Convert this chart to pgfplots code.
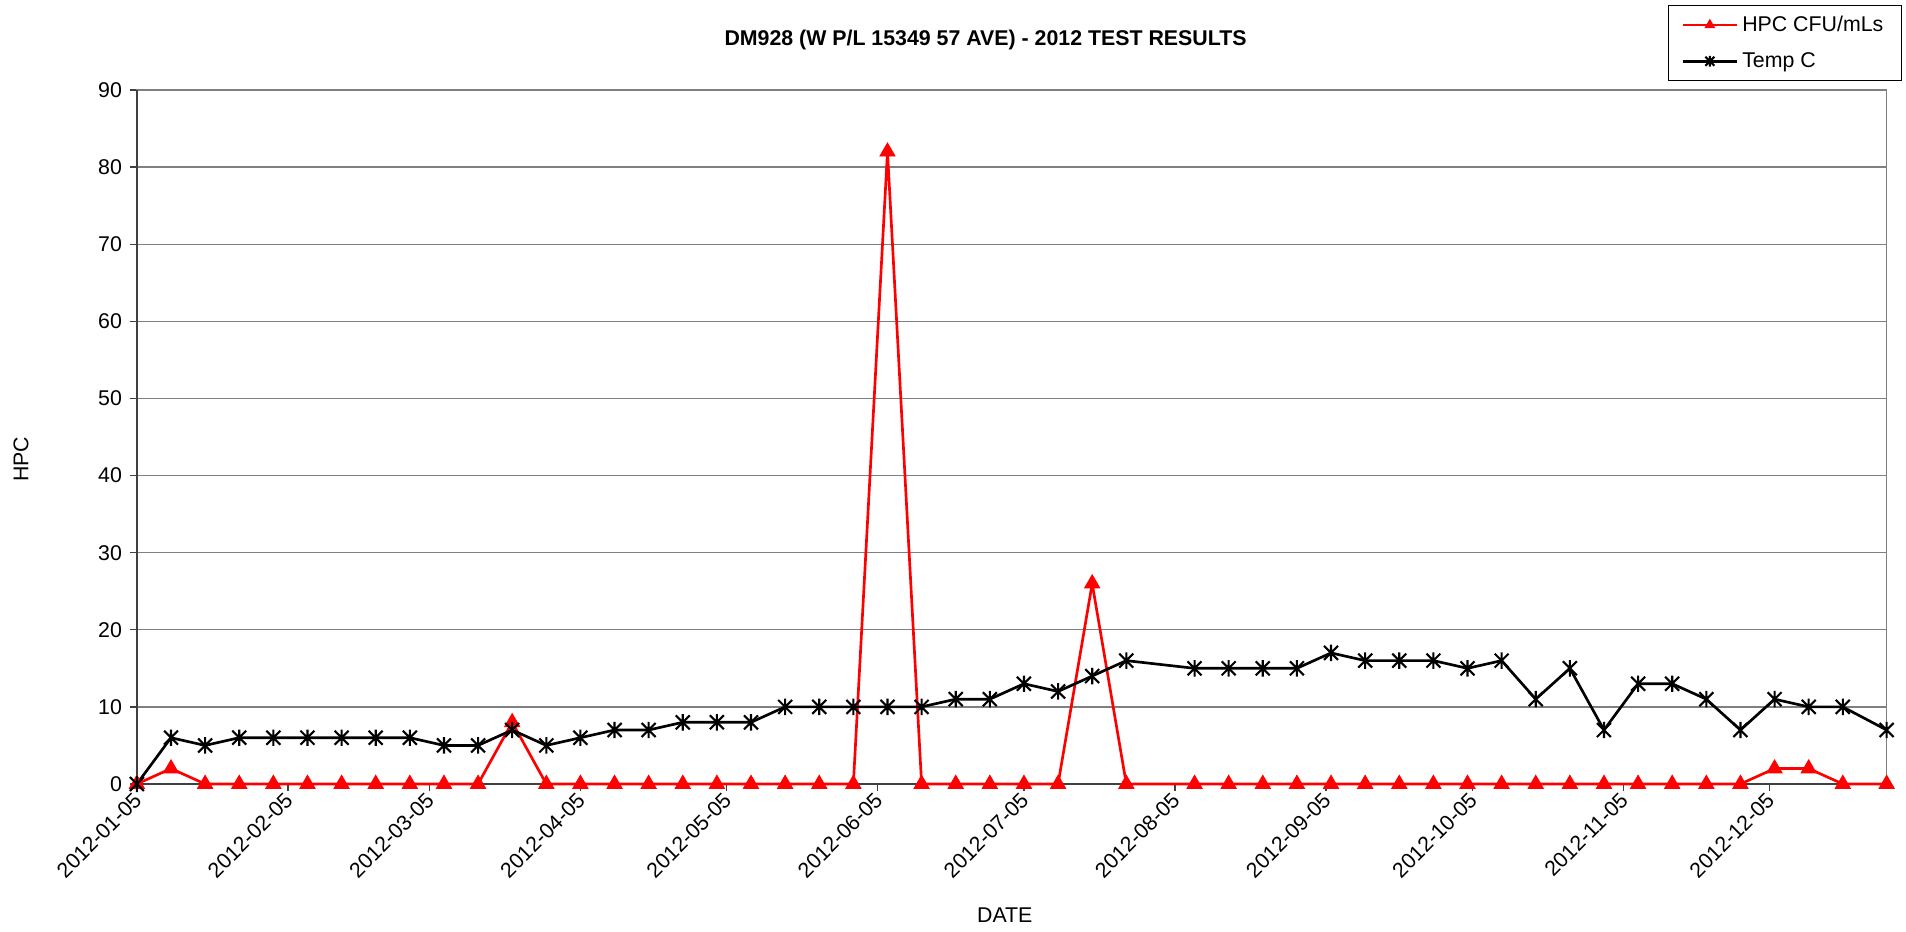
\documentclass[border=0pt]{standalone}
\usepackage{fontspec}
\setmainfont{Liberation Sans}
\usepackage{pgfplots}
\pgfplotsset{compat=1.18}

\definecolor{gridgray}{RGB}{128,128,128}
\definecolor{axisdark}{RGB}{64,64,64}

% Excel-style star: an x with a vertical bar
\pgfdeclareplotmark{xstar}{%
  \pgfpathmoveto{\pgfqpoint{-0.85\pgfplotmarksize}{-0.85\pgfplotmarksize}}%
  \pgfpathlineto{\pgfqpoint{0.85\pgfplotmarksize}{0.85\pgfplotmarksize}}%
  \pgfpathmoveto{\pgfqpoint{-0.85\pgfplotmarksize}{0.85\pgfplotmarksize}}%
  \pgfpathlineto{\pgfqpoint{0.85\pgfplotmarksize}{-0.85\pgfplotmarksize}}%
  \pgfpathmoveto{\pgfqpoint{0pt}{-\pgfplotmarksize}}%
  \pgfpathlineto{\pgfqpoint{0pt}{\pgfplotmarksize}}%
  \pgfusepathqstroke}

\begin{document}
\begin{tikzpicture}
\path[use as bounding box] (-61.6pt,-66.6pt) rectangle (796.1pt,352.8pt);
\begin{axis}[
  scale only axis,
  width=787.4pt, height=312.3pt,
  at={(0pt,0pt)}, anchor=south west,
  xmin=0, xmax=359, ymin=0, ymax=90,
  clip=false,
  font=\fontsize{9.6}{11}\selectfont,
  /pgf/number format/assume math mode=true,
  xtick={0,31,60,91,121,152,182,213,244,274,305,335},
  xticklabels={2012-01-05,2012-02-05,2012-03-05,2012-04-05,2012-05-05,2012-06-05,
    2012-07-05,2012-08-05,2012-09-05,2012-10-05,2012-11-05,2012-12-05},
  ytick={0,10,...,90},
  x tick label style={rotate=45, anchor=east, yshift=-2pt, xshift=2pt},
  tick align=outside,
  major tick length=3.2pt,
  tick style={axisdark, line width=0.6pt},
  xtick pos=bottom, ytick pos=left,
  ymajorgrids,
  grid style={gridgray, line width=0.6pt},
  axis line style={gridgray, line width=0.6pt},
  title={DM928 (W P/L 15349 57 AVE) - 2012 TEST RESULTS},
  title style={at={(axis description cs:0.485,1.053)}, anchor=center,
    font=\bfseries\fontsize{9.6}{11}\selectfont},
  xlabel={DATE},
  xlabel style={at={(axis description cs:0.496,-0.189)}, anchor=center},
  ylabel={HPC},
  ylabel style={at={(axis description cs:-0.0662,0.468)}, anchor=center, rotate=0},
  legend cell align=left,
  legend style={at={(axis description cs:0.875,1.1225)}, anchor=north west,
    draw=black, line width=0.5pt, inner xsep=6pt, inner ysep=2.5pt,
    row sep=4pt, font=\fontsize{9.6}{11}\selectfont},
  legend image code/.code={%
    \draw[mark repeat=2, mark phase=2, #1, mark size=2.4pt]
      plot coordinates {(0pt,0pt) (12pt,0pt) (24pt,0pt)};},
]
\draw[axisdark, line width=0.9pt] (rel axis cs:0,1) -- (rel axis cs:0,0) -- (rel axis cs:1,0);

\addplot[red, line width=1.2pt, mark=triangle*, mark size=3.9pt,
  mark options={solid, fill=red, line width=0.4pt}] coordinates {
  (0,0) (7,2) (14,0) (21,0) (28,0) (35,0) (42,0) (49,0) (56,0) (63,0)
  (70,0) (77,8) (84,0) (91,0) (98,0) (105,0) (112,0) (119,0) (126,0) (133,0)
  (140,0) (147,0) (154,82) (161,0) (168,0) (175,0) (182,0) (189,0) (196,26) (203,0)
  (217,0) (224,0) (231,0) (238,0) (245,0) (252,0) (259,0) (266,0) (273,0) (280,0)
  (287,0) (294,0) (301,0) (308,0) (315,0) (322,0) (329,0) (336,2) (343,2) (350,0)
  (359,0)
};
\addlegendentry{HPC CFU/mLs}

\addplot[black, line width=1.2pt, mark=xstar, mark size=3.7pt,
  mark options={solid, line width=0.95pt}] coordinates {
  (0,0) (7,6) (14,5) (21,6) (28,6) (35,6) (42,6) (49,6) (56,6) (63,5)
  (70,5) (77,7) (84,5) (91,6) (98,7) (105,7) (112,8) (119,8) (126,8) (133,10)
  (140,10) (147,10) (154,10) (161,10) (168,11) (175,11) (182,13) (189,12) (196,14) (203,16)
  (217,15) (224,15) (231,15) (238,15) (245,17) (252,16) (259,16) (266,16) (273,15) (280,16)
  (287,11) (294,15) (301,7) (308,13) (315,13) (322,11) (329,7) (336,11) (343,10) (350,10)
  (359,7)
};
\addlegendentry{Temp C}
\end{axis}
\end{tikzpicture}
\end{document}
